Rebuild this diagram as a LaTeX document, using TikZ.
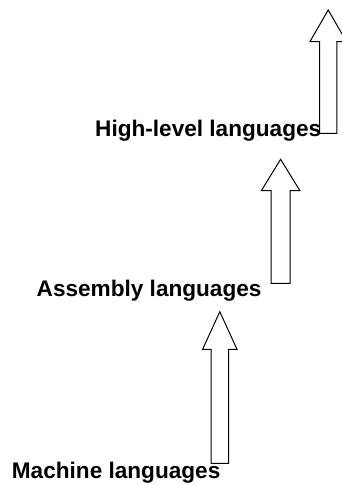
\documentclass[tikz,border=0pt]{standalone}
\usepackage{fontspec}
\setmainfont{Liberation Sans}
\usepackage{tikz}
\usetikzlibrary{positioning}

\begin{document}
\begin{tikzpicture}[
  x=1pt, y=-1pt,
  level/.style={font=\fontsize{22.6}{26}\selectfont\bfseries, inner sep=0pt,
    anchor=base west},
  blockarrow/.style={draw=black, line width=1pt, fill=white, line join=miter}
]
  \useasboundingbox (0,0) rectangle (341,485);

  % Language levels
  \node[level] (high) at (95,136.7) {High-level languages};
  \node[level] (asm) at (36.5,296.5) {Assembly languages};
  \node[level] (mach) at (11.7,478.3) {Machine languages};

  % Block arrows: centre/tip/head base/bottom/head half/shaft half
  \foreach \cx/\tip/\hb/\bot/\hh/\sh in {
      219.8/311.7/349.3/463.3/17.2/8.8,
      280.6/159.3/190.7/283.3/19.3/9.5,
      328.2/10/41.7/133.3/18.3/8.7} {
    \draw[blockarrow] (\cx,\tip) -- (\cx+\hh,\hb) -- (\cx+\sh,\hb)
      -- (\cx+\sh,\bot) -- (\cx-\sh,\bot) -- (\cx-\sh,\hb)
      -- (\cx-\hh,\hb) -- cycle;
  }
\end{tikzpicture}
\end{document}
